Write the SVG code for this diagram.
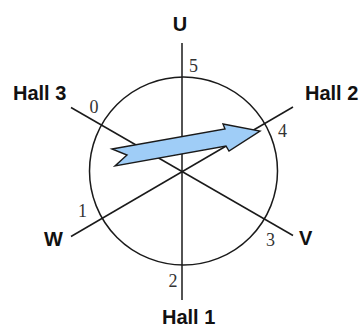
<svg xmlns="http://www.w3.org/2000/svg" width="360" height="327" viewBox="0 0 360 327">
<style>
.ln{stroke:#1a1a1a;stroke-width:1.5;fill:none}
.lbl{font-family:"Liberation Sans",Arial,sans-serif;font-weight:bold;font-size:20px;fill:#111}
.num{font-family:"Liberation Serif","Times New Roman",serif;font-size:18px;fill:#333}
</style>
<rect width="360" height="327" fill="#fff"/>
<g id="connectors">
<circle class="ln" cx="183.5" cy="171" r="94"/>
<line class="ln" x1="182" y1="43" x2="182" y2="300"/>
<line class="ln" x1="71" y1="107.5" x2="293" y2="235.5"/>
<line class="ln" x1="71" y1="236.5" x2="293" y2="107"/>
</g>
<g id="arrow">
<polygon points="112,149 225,129 223,124 260,131 229,151 226,146 115,166 127,155" fill="#9fcdf7" stroke="#1a1a1a" stroke-width="1.4" stroke-linejoin="miter"/>
</g>
<g id="U"><text class="lbl" x="180" y="31" text-anchor="middle">U</text></g>
<g id="hall3"><text class="lbl" x="13" y="100">Hall 3</text></g>
<g id="hall2"><text class="lbl" x="305" y="100">Hall 2</text></g>
<g id="W"><text class="lbl" x="44" y="246">W</text></g>
<g id="V"><text class="lbl" x="299" y="245">V</text></g>
<g id="hall1"><text class="lbl" x="162" y="324">Hall 1</text></g>
<g id="n5"><text class="num" x="189" y="72">5</text></g>
<g id="n0"><text class="num" x="89.5" y="112.5">0</text></g>
<g id="n4"><text class="num" x="278" y="137">4</text></g>
<g id="n1"><text class="num" x="78" y="217">1</text></g>
<g id="n3"><text class="num" x="266" y="246">3</text></g>
<g id="n2"><text class="num" x="168.5" y="287">2</text></g>
</svg>
